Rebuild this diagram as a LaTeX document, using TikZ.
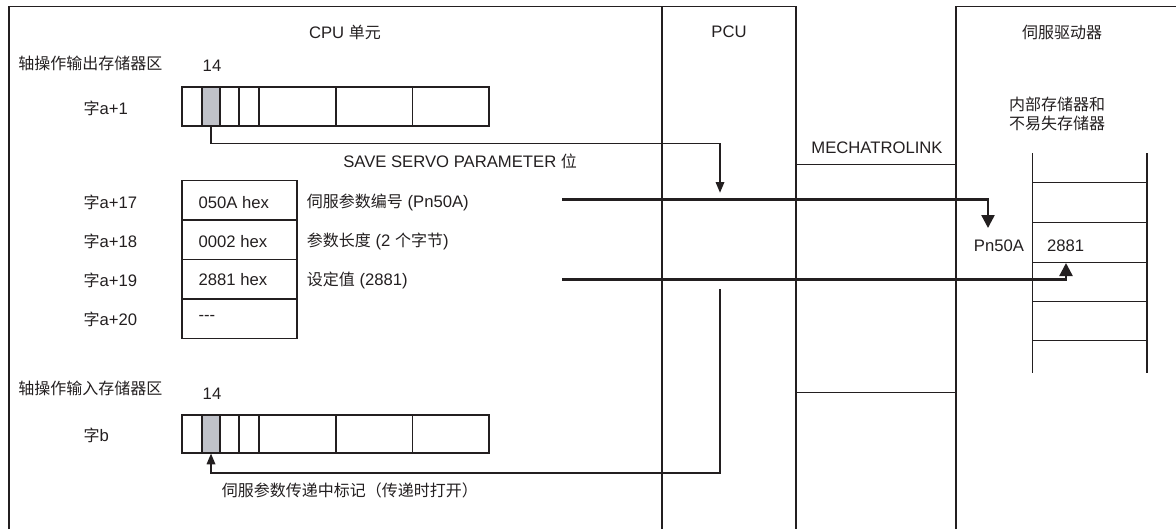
\documentclass[tikz,border=0pt]{standalone}
\usepackage{fontspec}
\setmainfont{Liberation Sans}
\newfontfamily\cjk[Scale=0.96]{Noto Sans CJK SC}
\usetikzlibrary{arrows.meta}
\definecolor{shade}{RGB}{192,194,201}
\definecolor{ink}{RGB}{35,31,32}
\begin{document}
\begin{tikzpicture}[x=0.75pt,y=-0.75pt,
  frame/.style={line width=0.9pt, draw=ink},
  cellline/.style={line width=0.9pt, draw=ink},
  bitcell/.style={draw=ink, line width=0.9pt, fill=shade, inner sep=0pt, minimum width=13.5pt, minimum height=29.25pt},
  lbl/.style={inner sep=0pt, font=\fontsize{12.5}{14}\selectfont, text=ink},
  conn/.style={line width=0.9pt, draw=ink, -{Triangle[length=8pt,width=6.5pt]}},
  bigconn/.style={line width=1.8pt, draw=ink, -{Triangle[length=9.75pt,width=9.75pt]}}
]
\useasboundingbox (0,0) rectangle (1176,529);

% ---- frames
\draw[frame] (9,529) -- (9,6.7) -- (796,6.7) -- (796,529);
\draw[frame] (662,6.7) -- (662,529);
\draw[frame] (956,529) -- (956,6.7) -- (1176,6.7);
\draw[frame] (796,164.3) -- (956,164.3);
\draw[frame] (796,392.3) -- (956,392.3);

% ---- titles
\node[lbl] (cputitle) at (345,32) {CPU {\cjk 单元}};
\node[lbl] (pcutitle) at (729,32) {PCU};
\node[lbl] (servotitle) at (1062,32) {\cjk 伺服驱动器};
\node[lbl] (mech) at (877,148) {MECHATROLINK};
\node[lbl] (mem1) at (1057,104) {\cjk 内部存储器和};
\node[lbl] (mem2) at (1057,123) {\cjk 不易失存储器};

% ---- output area
\node[lbl, anchor=west] (outarea) at (18,63) {\cjk 轴操作输出存储器区};
\node[lbl] (bitno1) at (212,66) {14};
\node[lbl, anchor=west] (wa1) at (83.4,108) {{\cjk 字}a+1};
\draw[cellline] (182,87) rectangle (489,126);
\node[bitcell] (bit1) at (211,106.5) {};
\foreach \xx in {202,220,239,259,336,412.5} \draw[cellline] (\xx,87) -- (\xx,126);
\node[lbl, anchor=west] (savelbl) at (343,161) {SAVE SERVO PARAMETER {\cjk 位}};

% ---- parameter words
\draw[cellline] (182,180.5) rectangle (297,338.5);
\foreach \yy in {220,259.5,299} \draw[cellline] (182,\yy) -- (297,\yy);
\node[lbl, anchor=west] (w17) at (83.4,202.5) {{\cjk 字}a+17};
\node[lbl, anchor=west] (w18) at (83.4,241.5) {{\cjk 字}a+18};
\node[lbl, anchor=west] (w19) at (83.4,280) {{\cjk 字}a+19};
\node[lbl, anchor=west] (w20) at (83.4,319) {{\cjk 字}a+20};
\node[lbl, anchor=west] (v17) at (198.3,202.5) {050A hex};
\node[lbl, anchor=west] (v18) at (198.3,241.5) {0002 hex};
\node[lbl, anchor=west] (v19) at (198.3,280) {2881 hex};
\node[lbl, anchor=west] (v20) at (198.3,318) {-{}-{}-};
\node[lbl, anchor=west] (d17) at (306.7,202.5) {{\cjk 伺服参数编号} (Pn50A)};
\node[lbl, anchor=west] (d18) at (306.7,241.5) {{\cjk 参数长度} (2 {\cjk 个字节})};
\node[lbl, anchor=west] (d19) at (306.7,280) {{\cjk 设定值} (2881)};

% ---- input area
\node[lbl, anchor=west] (inarea) at (18,388) {\cjk 轴操作输入存储器区};
\node[lbl] (bitno2) at (212,394) {14};
\node[lbl, anchor=west] (wb) at (83.4,435.5) {{\cjk 字}b};
\draw[cellline] (182,415) rectangle (489,453);
\node[bitcell, minimum height=28.5pt] (bit2) at (211,434) {};
\foreach \xx in {202,220,239,259,336,412.5} \draw[cellline] (\xx,415) -- (\xx,453);
\node[lbl, anchor=west] (flaglbl) at (221.7,490.7) {\cjk 伺服参数传递中标记（传递时打开）};

% ---- servo memory stack
\draw[frame] (1032.7,153) -- (1032.7,373);
\draw[frame] (1147,153) -- (1147,373);
\foreach \yy in {182.7,222.5,262.5,301.7,340.7} \draw[frame] (1032.7,\yy) -- (1147,\yy);
\node[lbl] (pn) at (999,245.5) {Pn50A};
\node[lbl] (val) at (1065.7,245.5) {2881};

% ---- connectors
\coordinate (pcuT) at (720,192.7);
\draw[conn] (bit1.south) -- ++(0,17) -| (pcuT);

\coordinate (pcuR) at (720,289);
\coordinate (retY) at (720,473);
\draw[conn] (pcuR) -- (retY) -| (bit2.south);

\coordinate (t1s) at (562,199.5);
\coordinate (pnT) at (988,228);
\draw[bigconn] (t1s) -| (pnT);

\coordinate (t2s) at (562,279.5);
\coordinate (valT) at (1066,263);
\draw[bigconn] (t2s) -| (valT);
\end{tikzpicture}
\end{document}
